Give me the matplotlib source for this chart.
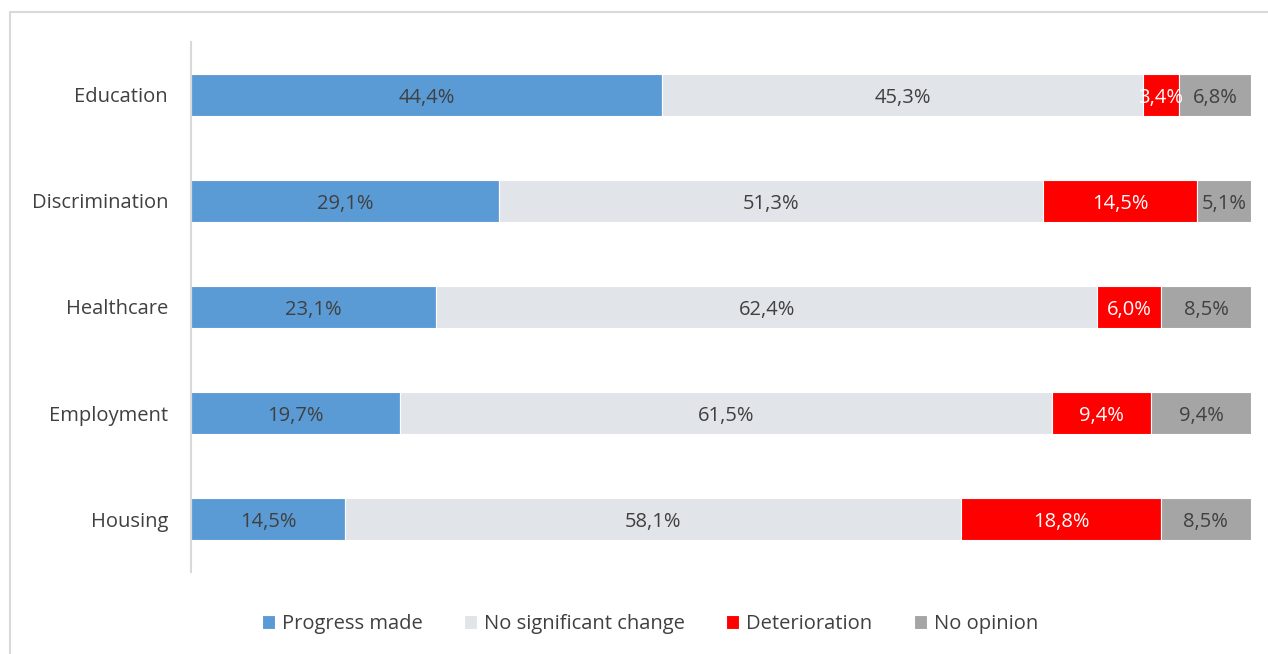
import matplotlib
matplotlib.use("Agg")
import matplotlib.pyplot as plt
from matplotlib.patches import Rectangle

# survey results, percent per area
areas = ["Education", "Discrimination", "Healthcare", "Employment", "Housing"]
progress = [44.4, 29.1, 23.1, 19.7, 14.5]
no_change = [45.3, 51.3, 62.4, 61.5, 58.1]
deterioration = [3.4, 14.5, 6.0, 9.4, 18.8]
no_opinion = [6.8, 5.1, 8.5, 9.4, 8.5]

series = [
    ("Progress made", progress, "#5B9BD5", "#404040"),
    ("No significant change", no_change, "#E1E5E9", "#404040"),
    ("Deterioration", deterioration, "#FF0000", "white"),
    ("No opinion", no_opinion, "#A5A5A5", "#404040"),
]

plt.rcParams["font.family"] = ["Open Sans", "DejaVu Sans"]

W, H = 1268, 654
fig = plt.figure(figsize=(W / 100, H / 100), dpi=100)
ax = fig.add_axes([191 / W, 1 - 572 / H, (1251 - 191) / W, (572 - 42) / H])

# outer chart frame (top and left edges visible)
fig.patches.append(Rectangle((10 / W, -0.1), 1.2, 1 - 12 / H + 0.1,
                             transform=fig.transFigure, fill=False,
                             edgecolor="#D9D9D9", linewidth=1.5))

ypos = list(range(len(areas)))
totals = [sum(v) for v in zip(progress, no_change, deterioration, no_opinion)]
left = [0.0] * len(areas)
for name, vals, color, tcol in series:
    widths = [v / t * 100 for v, t in zip(vals, totals)]
    ax.barh(ypos, widths, left=left, height=0.4, color=color,
            edgecolor="white", linewidth=0.8, label=name)
    for y, l, w, v in zip(ypos, left, widths, vals):
        ax.text(l + w / 2, y, f"{v:.1f}%".replace(".", ","), ha="center",
                va="center_baseline", fontsize=14.5, color=tcol)
    left = [l + w for l, w in zip(left, widths)]

ax.set_xlim(0, 100)
ax.set_ylim(len(areas) - 0.5, -0.5)
ax.set_yticks(ypos)
ax.set_yticklabels(areas, fontsize=14.5, color="#404040")
ax.tick_params(axis="y", length=0, pad=16.5)
ax.set_xticks([])
for s in ("top", "right", "bottom"):
    ax.spines[s].set_visible(False)
ax.spines["left"].set_color("#D9D9D9")
ax.spines["left"].set_linewidth(1.5)

leg = fig.legend(loc="center", bbox_to_anchor=(650 / W, 1 - 624 / H), ncol=4,
                 frameon=False, fontsize=14.5, handlelength=0.65,
                 handleheight=0.65, handletextpad=0.35, columnspacing=2.05)
for t in leg.get_texts():
    t.set_color("#404040")

fig.savefig("out.png", dpi=100)
